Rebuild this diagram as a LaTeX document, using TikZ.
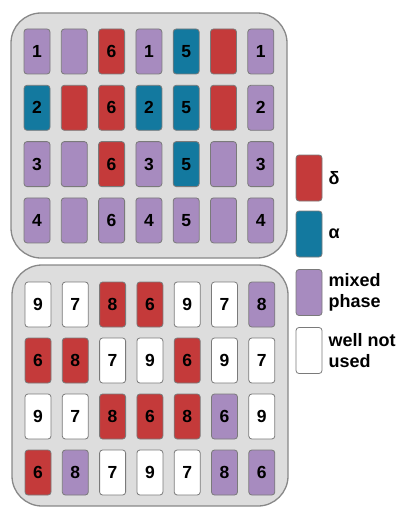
\documentclass[tikz,border=0pt]{standalone}
\usepackage{fontspec}
\setmainfont{Liberation Sans}
\usetikzlibrary{positioning}
\definecolor{cdelta}{HTML}{C43A3A}
\definecolor{calpha}{HTML}{13799F}
\definecolor{cmix}{HTML}{A78BBF}
\definecolor{cnone}{HTML}{FFFFFF}
\definecolor{cplate}{HTML}{DDDDDD}
\definecolor{cedge}{HTML}{888888}
\definecolor{cwell}{HTML}{7A7A7A}
\begin{document}
\begin{tikzpicture}[
  x=1pt, y=-1pt,
  font=\fontsize{17.5}{20}\selectfont\bfseries,
  plate/.style={draw=cedge, fill=cplate, line width=1.3pt, rounded corners=30pt,
                minimum width=276pt, inner sep=0pt},
  well/.style={draw=cwell, line width=0.8pt, rounded corners=3pt, inner sep=0pt,
               minimum width=26pt, minimum height=45pt},
  lab/.style={anchor=west, align=left, inner sep=0pt, font=\fontsize{18}{20.5}\selectfont\bfseries},
]
\useasboundingbox (0,0) rectangle (397,508);
% ---------- plate 1 ----------
\node[plate, minimum height=245pt] (plateA) at (149,135.5) {};
\foreach \r/\wells in {
  1/{1/1/cmix, 2/{}/cmix, 3/6/cdelta, 4/1/cmix, 5/5/calpha, 6/{}/cdelta, 7/1/cmix},
  2/{1/2/calpha, 2/{}/cdelta, 3/6/cdelta, 4/2/calpha, 5/5/calpha, 6/{}/cdelta, 7/2/cmix},
  3/{1/3/cmix, 2/{}/cmix, 3/6/cdelta, 4/3/cmix, 5/5/calpha, 6/{}/cmix, 7/3/cmix},
  4/{1/4/cmix, 2/{}/cmix, 3/6/cmix, 4/4/cmix, 5/5/cmix, 6/{}/cmix, 7/4/cmix}}{
  \foreach \c/\num/\col in \wells{
    \node[well, fill=\col] (a-\r-\c) at ({37+37.3*(\c-1)}, {51.5+56.3*(\r-1)}) {\num};
  }
}
% ---------- plate 2 ----------
\node[plate, minimum height=241pt] (plateB) at (150,385.5) {};
\foreach \r/\wells in {
  1/{1/9/cnone, 2/7/cnone, 3/8/cdelta, 4/6/cdelta, 5/9/cnone, 6/7/cnone, 7/8/cmix},
  2/{1/6/cdelta, 2/8/cdelta, 3/7/cnone, 4/9/cnone, 5/6/cdelta, 6/9/cnone, 7/7/cnone},
  3/{1/9/cnone, 2/7/cnone, 3/8/cdelta, 4/6/cdelta, 5/8/cdelta, 6/6/cmix, 7/9/cnone},
  4/{1/6/cdelta, 2/8/cmix, 3/7/cnone, 4/9/cnone, 5/7/cnone, 6/8/cmix, 7/6/cmix}}{
  \foreach \c/\num/\col in \wells{
    \node[well, fill=\col] (b-\r-\c) at ({38+37.3*(\c-1)}, {304.5+56*(\r-1)}) {\num};
  }
}
% ---------- legend ----------
\node[well, minimum height=46pt, fill=cdelta] (keyD) at (309,178) {};
\node[well, minimum height=46pt, fill=calpha] (keyA) at (309,234) {};
\node[well, minimum height=46pt, fill=cmix] (keyM) at (309,292.5) {};
\node[well, minimum height=46pt, fill=cnone] (keyN) at (309,350.5) {};
\node[lab, right=6pt of keyD] (labD) {δ};
\node[lab, right=6pt of keyA] (labA) {α};
\node[lab, right=6pt of keyM] (labM) {mixed\\phase};
\node[lab, right=6pt of keyN] (labN) {well not\\used};
\end{tikzpicture}
\end{document}
